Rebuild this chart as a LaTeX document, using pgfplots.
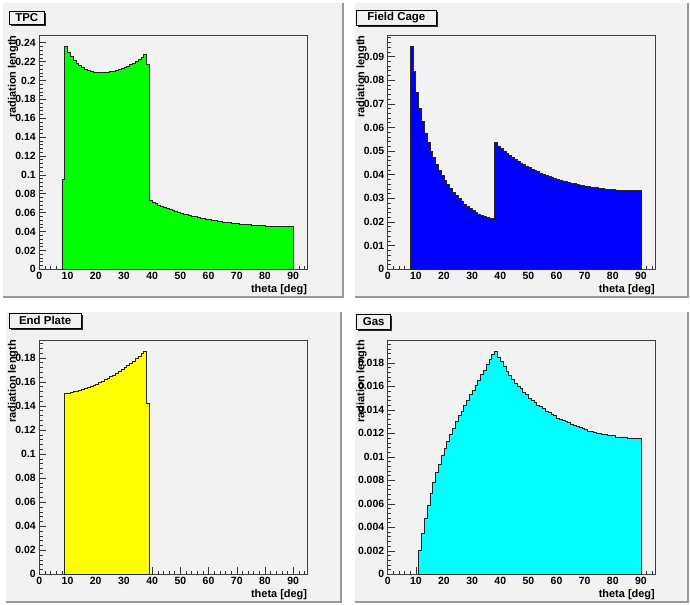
\documentclass[border=0pt]{standalone}
\usepackage{fontspec}
\setmainfont{Liberation Sans}
\usepackage{pgfplots}
\usepackage{pgfplotstable}
\pgfplotsset{compat=1.18}
\definecolor{padbg}{RGB}{242,242,242}
\definecolor{hgreen}{RGB}{0,255,0}
\definecolor{hblue}{RGB}{0,0,255}
\definecolor{hyellow}{RGB}{255,255,0}
\definecolor{hcyan}{RGB}{0,255,255}

\pgfplotstableread{
theta val
8 0.0950
9 0.2360
10 0.2300
11 0.2250
12 0.2210
13 0.2180
14 0.2155
15 0.2135
16 0.2118
17 0.2105
18 0.2095
19 0.2090
20 0.2085
21 0.2083
22 0.2083
23 0.2083
24 0.2087
25 0.2092
26 0.2099
27 0.2107
28 0.2117
29 0.2130
30 0.2141
31 0.2154
32 0.2169
33 0.2186
34 0.2204
35 0.2225
36 0.2247
37 0.2275
38 0.2175
39 0.0729
40 0.0711
41 0.0697
42 0.0682
43 0.0669
44 0.0657
45 0.0645
46 0.0634
47 0.0624
48 0.0613
49 0.0605
50 0.0594
51 0.0586
52 0.0578
53 0.0570
54 0.0563
55 0.0556
56 0.0548
57 0.0543
58 0.0536
59 0.0530
60 0.0524
61 0.0520
62 0.0514
63 0.0510
64 0.0506
65 0.0501
66 0.0497
67 0.0493
68 0.0490
69 0.0485
70 0.0482
71 0.0479
72 0.0477
73 0.0473
74 0.0471
75 0.0469
76 0.0466
77 0.0465
78 0.0463
79 0.0461
80 0.0460
81 0.0458
82 0.0457
83 0.0456
84 0.0456
85 0.0454
86 0.0454
87 0.0453
88 0.0453
89 0.0453
90 0.0453
}\tpc

\pgfplotstableread{
theta val
8 0.0943
9 0.0836
10 0.0749
11 0.0681
12 0.0624
13 0.0577
14 0.0536
15 0.0500
16 0.0472
17 0.0445
18 0.0418
19 0.0397
20 0.0376
21 0.0359
22 0.0342
23 0.0326
24 0.0312
25 0.0299
26 0.0288
27 0.0276
28 0.0266
29 0.0258
30 0.0249
31 0.0241
32 0.0234
33 0.0228
34 0.0223
35 0.0219
36 0.0216
37 0.0214
38 0.0535
39 0.0522
40 0.0511
41 0.0501
42 0.0491
43 0.0482
44 0.0474
45 0.0465
46 0.0458
47 0.0450
48 0.0443
49 0.0437
50 0.0430
51 0.0424
52 0.0419
53 0.0413
54 0.0408
55 0.0403
56 0.0398
57 0.0394
58 0.0389
59 0.0385
60 0.0381
61 0.0378
62 0.0374
63 0.0371
64 0.0368
65 0.0365
66 0.0362
67 0.0359
68 0.0357
69 0.0354
70 0.0352
71 0.0350
72 0.0348
73 0.0346
74 0.0345
75 0.0343
76 0.0341
77 0.0340
78 0.0339
79 0.0338
80 0.0337
81 0.0336
82 0.0335
83 0.0334
84 0.0334
85 0.0333
86 0.0333
87 0.0332
88 0.0332
89 0.0332
90 0.0332
}\fcage

\pgfplotstableread{
theta val
9 0.1504
10 0.1508
11 0.1513
12 0.1519
13 0.1525
14 0.1532
15 0.1539
16 0.1547
17 0.1555
18 0.1564
19 0.1573
20 0.1583
21 0.1594
22 0.1605
23 0.1617
24 0.1630
25 0.1643
26 0.1657
27 0.1672
28 0.1688
29 0.1704
30 0.1720
31 0.1737
32 0.1755
33 0.1773
34 0.1792
35 0.1812
36 0.1833
37 0.1855
38 0.1425
39 0.1425
}\eplate

\pgfplotstableread{
theta val
11 0.0020
12 0.0035
13 0.0048
14 0.0059
15 0.0069
16 0.0078
17 0.0087
18 0.0094
19 0.0101
20 0.0107
21 0.0113
22 0.0119
23 0.0124
24 0.0130
25 0.0135
26 0.0139
27 0.0144
28 0.0148
29 0.0153
30 0.0157
31 0.0161
32 0.0165
33 0.0170
34 0.0174
35 0.0179
36 0.0183
37 0.0187
38 0.0190
39 0.0185
40 0.0181
41 0.0177
42 0.0173
43 0.0169
44 0.0166
45 0.0163
46 0.0160
47 0.0158
48 0.0155
49 0.0153
50 0.0150
51 0.0148
52 0.0146
53 0.0144
54 0.0143
55 0.0141
56 0.0139
57 0.0138
58 0.0136
59 0.0135
60 0.0133
61 0.0132
62 0.0131
63 0.0130
64 0.0129
65 0.0128
66 0.0127
67 0.0126
68 0.0125
69 0.0124
70 0.0123
71 0.0122
72 0.0122
73 0.0121
74 0.0120
75 0.0120
76 0.0119
77 0.0119
78 0.0118
79 0.0118
80 0.0118
81 0.0117
82 0.0117
83 0.0117
84 0.0117
85 0.0116
86 0.0116
87 0.0116
88 0.0116
89 0.0116
90 0.0116
}\gas

\pgfplotsset{
 rootax/.style={
  scale only axis, anchor=south west,
  xmin=0, xmax=95, ymin=0,
  xtick distance=10, minor x tick num=4, minor y tick num=4,
  tick align=inside, tick pos=left,
  major tick length=7bp, minor tick length=3.5bp,
  every tick/.append style={black!80, line width=0.5bp},
  axis line style={black!75, line width=0.8bp},
  scaled y ticks=false,
  /pgf/number format/assume math mode=true,
  yticklabel style={/pgf/number format/fixed, /pgf/number format/precision=3},
  xticklabel style={yshift=1bp},
  tick label style={font=\fontsize{10.5}{12}\selectfont\bfseries},
  xlabel={theta [deg]}, ylabel={radiation length},
  every axis x label/.style={at={(rel axis cs:1,-0.064)}, anchor=north east, inner sep=0pt, font=\fontsize{11}{13}\selectfont\bfseries},
  every axis y label/.style={at={(rel axis cs:-0.078,1)}, anchor=south east, rotate=90, inner sep=0pt, font=\fontsize{11}{13}\selectfont\bfseries},
 },
 hist/.style={const plot, draw=black!85, line width=0.7bp, fill=#1},
}

\newcommand{\titlebox}[5]{%
  \fill[black!85] (#1+1.6,#2-1.6) rectangle (#3+1.6,#4-1.6);
  \filldraw[fill=padbg, draw=black, line width=0.6bp] (#1,#2) rectangle (#3,#4);
  \node[font=\fontsize{11.5}{13}\selectfont\bfseries, inner sep=0pt] at ({(#1+#3)/2},{(#2+#4)/2}) {#5};
}

\begin{document}
\begin{tikzpicture}
\begin{scope}[x=1bp,y=1bp]
\fill[white] (0,0) rectangle (690,605);
% pads
\fill[padbg] (3,308) rectangle (343,602);
\draw[black!40, line width=1.2bp] (3,308) -- (343,308) -- (343,602);
\fill[padbg] (355,308) rectangle (688,602);
\draw[black!40, line width=1.2bp] (355,308) -- (688,308) -- (688,602);
\fill[padbg] (6,3) rectangle (341,293);
\draw[black!40, line width=1.2bp] (6,3) -- (341,3) -- (341,293);
\fill[padbg] (355,3) rectangle (688,293);
\draw[black!40, line width=1.2bp] (355,3) -- (688,3) -- (688,293);
\end{scope}

\begin{axis}[rootax, at={(39.3bp,335.7bp)}, width=268bp, height=234bp, ymax=0.2478, ytick distance=0.02]
\addplot[hist=hgreen] table[x=theta,y=val] {\tpc} \closedcycle;
\end{axis}

\begin{axis}[rootax, at={(387.7bp,335.7bp)}, width=267.3bp, height=234bp, ymax=0.0990, ytick distance=0.01]
\addplot[hist=hblue] table[x=theta,y=val] {\fcage} \closedcycle;
\end{axis}

\begin{axis}[rootax, at={(39.3bp,30.7bp)}, width=268bp, height=234.3bp, ymax=0.1948, ytick distance=0.02]
\addplot[hist=hyellow] table[x=theta,y=val] {\eplate} \closedcycle;
\end{axis}

\begin{axis}[rootax, at={(387.7bp,30.7bp)}, width=267.3bp, height=234.3bp, ymax=0.01995, ytick distance=0.002]
\addplot[hist=hcyan] table[x=theta,y=val] {\gas} \closedcycle;
\end{axis}

\begin{scope}[x=1bp,y=1bp]
\titlebox{9.3}{581}{44.3}{594}{TPC}
\titlebox{356.7}{580}{436}{595}{Field Cage}
\titlebox{9.3}{276.7}{81}{291.7}{End Plate}
\titlebox{356.7}{276}{390.7}{290.7}{Gas}
\end{scope}
\end{tikzpicture}
\end{document}
